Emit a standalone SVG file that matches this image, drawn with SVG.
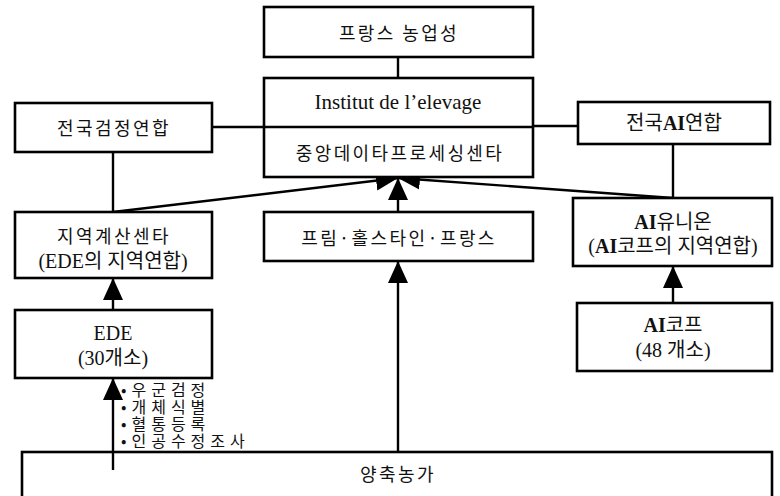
<svg xmlns="http://www.w3.org/2000/svg" width="780" height="496" viewBox="0 0 780 496">
<style>
.box{fill:#fff;stroke:#000;stroke-width:2.6}
.ln{fill:none;stroke:#000;stroke-width:2.4}
.ko{font-family:"Noto Sans CJK KR","Noto Sans",sans-serif;font-size:18px;letter-spacing:2.4px;fill:#111;text-anchor:middle;dominant-baseline:central}
.mx{font-family:"Liberation Serif","Noto Sans CJK KR",serif;font-size:20px;fill:#111;text-anchor:middle;dominant-baseline:central}
.bl{font-family:"Noto Sans CJK KR","Noto Sans",sans-serif;font-size:16px;letter-spacing:5px;fill:#111}
.b{font-weight:bold}
</style>
<defs>
<marker id="ah" markerUnits="userSpaceOnUse" markerWidth="22" markerHeight="20" refX="22" refY="10" orient="auto" viewBox="0 0 22 20">
<path d="M0,0 L22,10 L0,20 z" fill="#000"/>
</marker>
</defs>
<rect width="780" height="496" fill="#fff"/>
<g id="connectors">
<line class="ln" x1="398" y1="57" x2="398" y2="78"/>
<line class="ln" x1="212" y1="127" x2="264" y2="127"/>
<line class="ln" x1="533" y1="126" x2="578" y2="126"/>
<line class="ln" x1="113" y1="152" x2="113" y2="212"/>
<line class="ln" x1="673" y1="144" x2="673" y2="198"/>
<line class="ln" x1="113" y1="212" x2="398" y2="178" marker-end="url(#ah)"/>
<line class="ln" x1="673" y1="198" x2="398" y2="178" marker-end="url(#ah)"/>
<line class="ln" x1="398" y1="212" x2="398" y2="178" marker-end="url(#ah)"/>
<line class="ln" x1="113" y1="310" x2="113" y2="278" marker-end="url(#ah)"/>
<line class="ln" x1="673" y1="303" x2="673" y2="266" marker-end="url(#ah)"/>
</g>
<g id="n-farm">
<rect class="box" x="22" y="452" width="750" height="48"/>
<text class="ko" x="398" y="473">양축농가</text>
</g>
<g id="connectors-bottom">
<line class="ln" x1="113" y1="470" x2="113" y2="378" marker-end="url(#ah)"/>
<line class="ln" x1="398" y1="452" x2="398" y2="261" marker-end="url(#ah)"/>
</g>
<g id="n-ministry">
<rect class="box" x="264" y="7" width="269" height="50"/>
<text class="ko" x="399" y="32">프랑스 농업성</text>
</g>
<g id="n-institut">
<rect class="box" x="264" y="78" width="269" height="99"/>
<line class="ln" x1="264" y1="127" x2="533" y2="127"/>
<text class="mx" x="398" y="102" style="font-size:21px">Institut de l’elevage</text>
<text class="ko" x="400" y="152">중앙데이타프로세싱센타</text>
</g>
<g id="n-national-test">
<rect class="box" x="15" y="103" width="197" height="49"/>
<text class="ko" x="114" y="127">전국검정연합</text>
</g>
<g id="n-national-ai">
<rect class="box" x="578" y="102" width="192" height="42"/>
<text class="mx" x="674" y="123"><tspan>전국</tspan><tspan class="b">AI</tspan><tspan>연합</tspan></text>
</g>
<g id="n-regional">
<rect class="box" x="15" y="212" width="197" height="66"/>
<text class="ko" x="114" y="235">지역계산센타</text>
<text class="mx" x="113" y="261">(EDE의 지역연합)</text>
</g>
<g id="n-holstein">
<rect class="box" x="264" y="212" width="269" height="49"/>
<text class="ko" x="399" y="237">프림·홀스타인·프랑스</text>
</g>
<g id="n-ai-union">
<rect class="box" x="573" y="198" width="199" height="68"/>
<text class="mx" x="673" y="222"><tspan class="b">AI</tspan><tspan>유니온</tspan></text>
<text class="mx" x="673" y="246">(<tspan class="b">AI</tspan>코프의 지역연합)</text>
</g>
<g id="n-ede">
<rect class="box" x="15" y="310" width="197" height="68"/>
<text class="mx" x="113" y="333">EDE</text>
<text class="mx" x="113" y="358">(30개소)</text>
</g>
<g id="n-ai-coop">
<rect class="box" x="577" y="303" width="195" height="68"/>
<text class="mx" x="673" y="325"><tspan class="b">AI</tspan><tspan>코프</tspan></text>
<text class="mx" x="673" y="350">(48 개소)</text>
</g>
<g id="bullets">
<text class="bl" x="121" y="396">•우군검정</text>
<text class="bl" x="121" y="413">•개체식별</text>
<text class="bl" x="121" y="430">•혈통등록</text>
<text class="bl" x="121" y="447">•인공수정조사</text>
</g>
</svg>
